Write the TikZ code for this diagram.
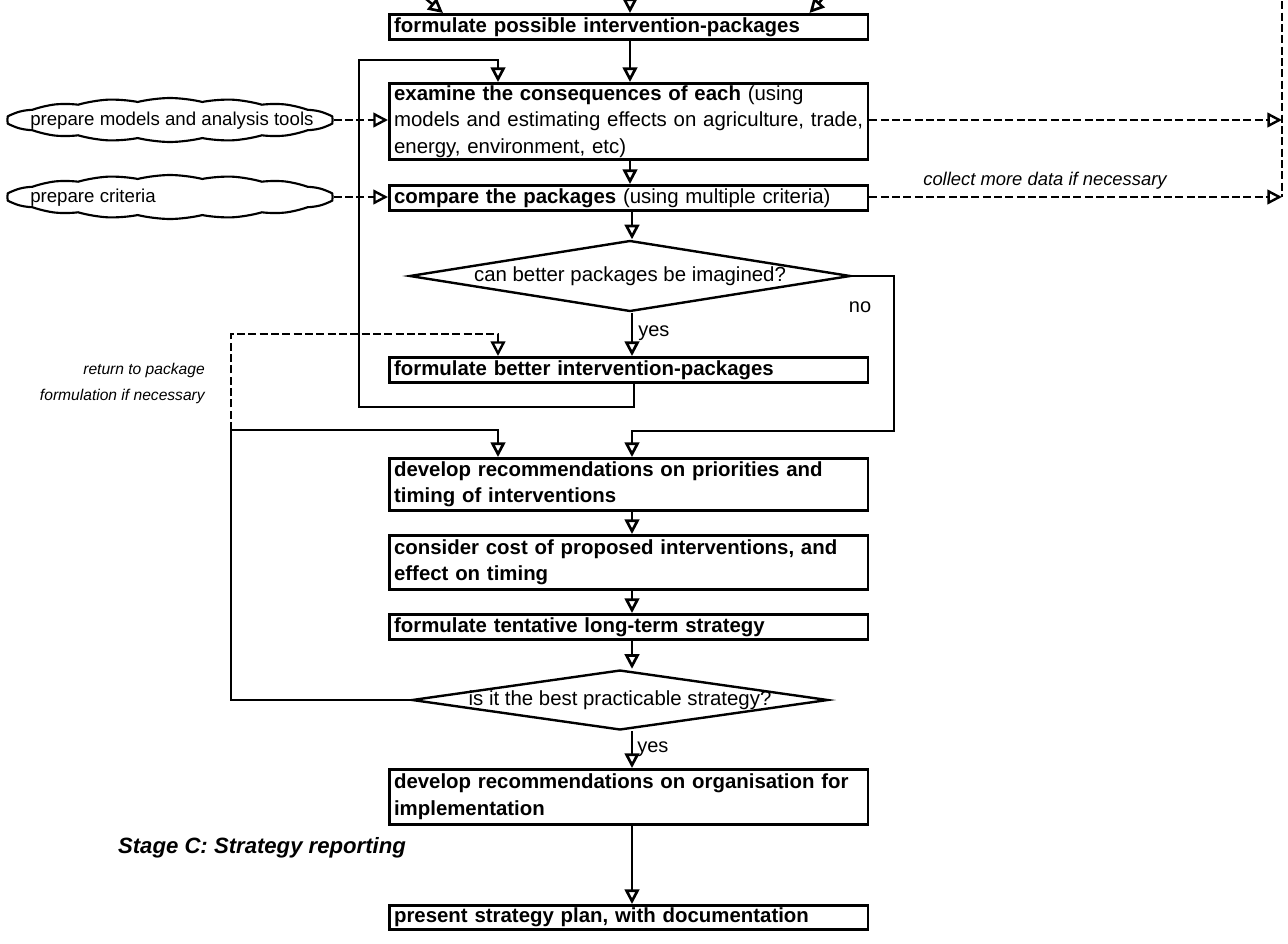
\documentclass[tikz,border=0pt]{standalone}
\usepackage{fontspec}
\setmainfont{Liberation Sans}
\usetikzlibrary{arrows.meta,shapes.geometric,shapes.symbols,calc}
\begin{document}
\begin{tikzpicture}[x=0.75pt,y=-0.75pt,
  box/.style={draw, line width=2.1pt, minimum width=359pt, inner xsep=3.5pt, inner ysep=0pt,
    text width=352pt, align=left, anchor=north west, font=\fontsize{15.3}{20}\selectfont},
  nbox/.style={box, font=\bfseries\fontsize{15.3}{20}\selectfont},
  dia/.style={draw, diamond, line width=1.8pt, inner sep=0pt},
  arr/.style={line width=1.8pt, -{Triangle[open,length=11pt,width=11pt,line width=2pt]}},
  dline/.style={line width=1.5pt, dash pattern=on 6pt off 2.5pt},
  darr/.style={dline, -{Triangle[open,length=11pt,width=11pt,line width=1.8pt]}},
  cloudbox/.style={cloud, draw, line width=1.6pt, cloud puffs=16, cloud puff arc=28, aspect=7.4,
    minimum width=244pt, minimum height=33pt, inner sep=0pt},
  cloudtext/.style={font=\fontsize{14}{16}\selectfont, anchor=west, inner sep=0pt},
  lbl/.style={inner sep=0pt, font=\fontsize{15}{18}\selectfont}
]
\useasboundingbox (0,0) rectangle (1288,943);

% main boxes
\node[box, minimum height=18.75pt] (b1) at (388,13) {\bfseries formulate possible intervention-packages};
\node[box, minimum height=57pt] (b2) at (388,82) {{\bfseries examine the consequences of each} (using\\models and estimating effects on agriculture, trade,\\energy, environment, etc)};
\node[box, minimum height=18.75pt] (b3) at (388,184) {{\bfseries compare the packages} (using multiple criteria)};
\node[dia, minimum width=330.75pt, minimum height=53.25pt, aspect=6.2,
  label={[font=\fontsize{15.3}{18}\selectfont]center:can better packages be imagined?}] (d1) at (630,276) {};
\node[box, minimum height=18.75pt] (b4) at (388,356) {\bfseries formulate better intervention-packages};
\node[nbox, minimum height=39pt] (b5) at (388,457) {develop recommendations on priorities and\\timing of interventions};
\node[nbox, minimum height=40.5pt] (b6) at (388,534) {consider cost of proposed interventions, and\\effect on timing};
\node[nbox, minimum height=18.75pt] (b7) at (388,613) {formulate tentative long-term strategy};
\node[dia, minimum width=312pt, minimum height=45pt, aspect=6.9,
  label={[font=\fontsize{15.3}{18}\selectfont]center:is it the best practicable strategy?}] (d2) at (620,700) {};
\node[nbox, minimum height=41.25pt] (b8) at (388,768) {develop recommendations on organisation for\\implementation};
\node[nbox, minimum height=18pt] (b9) at (388,904) {present strategy plan, with documentation};

% clouds
\node[cloudbox] (c1) at (170,120) {};
\node[cloudtext] (c1t) at (30,121) {prepare models and analysis tools};
\node[cloudbox] (c2) at (170,197) {};
\node[cloudtext] (c2t) at (30,198) {prepare criteria};

% labels
\node[lbl, font=\itshape\fontsize{13.8}{16}\selectfont] (lcol) at (1045,181) {collect more data if necessary};
\node[lbl] (lno) at (860,307) {no};
\node[lbl, anchor=west] (lyes1) at (638,333) {yes};
\node[lbl, anchor=west] (lyes2) at (637,749) {yes};
\node[inner sep=0pt, anchor=east, align=right, font=\itshape\fontsize{11.7}{19.5}\selectfont] (lret) at (205,383) {return to package\\formulation if necessary};
\node[inner sep=0pt, font=\bfseries\itshape\fontsize{16.6}{20}\selectfont] (stage) at (262,848) {Stage C: Strategy reporting};

% coordinates
\coordinate (ax) at (630,0);
\coordinate (bx) at (632,0);
\coordinate (t1) at (403,-20);
\coordinate (t2) at (630,-20);
\coordinate (t3) at (840,-20);
\coordinate (lpA) at (634,407);
\coordinate (lpB) at (359,407);
\coordinate (lpC) at (359,60);
\coordinate (lpD) at (498,60);
\coordinate (n1) at (894,276);
\coordinate (n2) at (894,431);
\coordinate (n3) at (632,431);
\coordinate (r1) at (231,700);
\coordinate (r2) at (231,430);
\coordinate (r3) at (498,430);
\coordinate (q1) at (231,334);
\coordinate (q2) at (498,334);
\coordinate (e1) at (1282,0);
\coordinate (v1) at (1282,-10);
\coordinate (v2) at (1282,197);

% incoming arrows at top
\draw[arr] (t1) -- ([xshift=41.25pt]b1.north west);
\draw[arr] (t2) -- (b1.north -| ax);
\draw[arr] (t3) -- ([xshift=-45pt]b1.north east);

% main flow
\draw[arr] (b1.south -| ax) -- (b2.north -| ax);
\draw[arr] (b2.south -| ax) -- (b3.north -| ax);
\draw[arr] (b3.south -| bx) -- (d1.north -| bx);
\draw[arr] (d1.south -| bx) -- (b4.north -| bx);
\draw[arr] (b4.south -| lpA) -- (lpA) -- (lpB) -- (lpC) -- (lpD) -- (b2.north -| lpD);
\draw[arr] (d1.east) -- (n1) -- (n2) -- (n3) -- (b5.north -| n3);
\draw[darr] (r2) -- (q1) -- (q2) -- (b4.north -| q2);
\draw[arr] (d2.west) -- (r1) -- (r2) -- (r3) -- (b5.north -| r3);
\draw[arr] (b5.south -| bx) -- (b6.north -| bx);
\draw[arr] (b6.south -| bx) -- (b7.north -| bx);
\draw[arr] (b7.south -| bx) -- (d2.north -| bx);
\draw[arr] (d2.south -| bx) -- (b8.north -| bx);
\draw[arr] (b8.south -| bx) -- (b9.north -| bx);

% dashed side connectors
\draw[darr] (c1.east) -- (c1.east -| b2.west);
\draw[darr] (c2.east) -- (c2.east -| b3.west);
\draw[darr] (b2.east |- c1.east) -- (e1 |- c1.east);
\draw[darr] (b3.east |- c2.east) -- (e1 |- c2.east);
\draw[dline] (v1) -- (v2);
\end{tikzpicture}
\end{document}
